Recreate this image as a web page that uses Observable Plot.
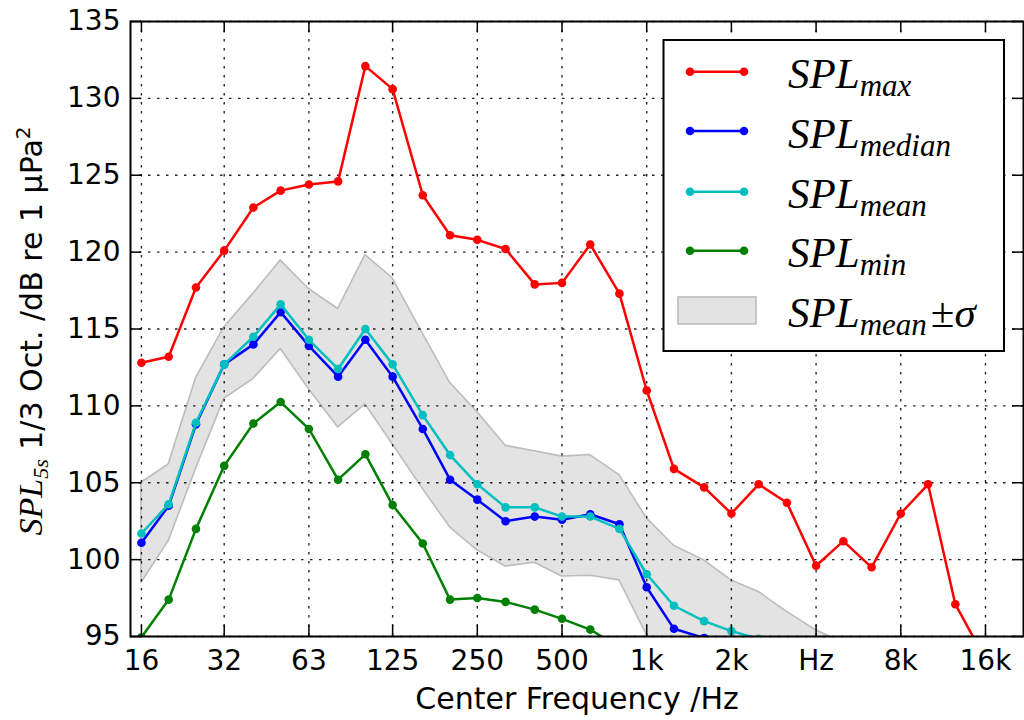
<!DOCTYPE html>
<html><head><meta charset="utf-8">
<script src="https://cdn.jsdelivr.net/npm/d3@7"></script>
<script src="https://cdn.jsdelivr.net/npm/@observablehq/plot@0.6"></script>
<style>
body{margin:0;background:#fff;}
#wrap{position:relative;width:1024px;height:720px;overflow:hidden;}
#overlay{position:absolute;left:0;top:0;pointer-events:none;}
</style></head><body><div id="wrap"></div>
<script>
// 1/3-octave band centre frequencies (Hz)
const freqs = [16,20,25,31.5,40,50,63,80,100,125,160,200,250,315,400,500,630,800,1000,1250,1600,2000,2500,3150,4000,5000,6300,8000,10000,12500,16000];
const splMax    = [112.8,113.2,117.7,120.1,122.9,124.0,124.4,124.6,132.1,130.6,123.7,121.1,120.8,120.2,117.9,118.0,120.5,117.3,111.0,105.9,104.7,103.0,104.9,103.7,99.6,101.2,99.5,103.0,104.9,97.1,93.5];
const splMedian = [101.1,103.5,108.8,112.7,114.0,116.1,113.9,111.9,114.3,111.9,108.5,105.2,103.9,102.5,102.8,102.6,102.95,102.3,98.2,95.5,94.9,94.3];
const splMean   = [101.7,103.6,108.9,112.7,114.5,116.6,114.3,112.4,115.0,112.7,109.4,106.8,104.9,103.4,103.4,102.8,102.8,102.0,99.05,97.0,96.0,95.35,94.85,94.3];
const splMin    = [94.95,97.4,102.0,106.1,108.85,110.25,108.5,105.2,106.85,103.55,101.05,97.4,97.5,97.25,96.75,96.15,95.45,94.3];
const bandUpper = [105.0,106.2,111.8,115.1,117.3,119.45,117.6,116.3,119.8,118.3,114.7,111.5,109.6,107.4,107.05,106.7,106.8,105.5,102.7,100.9,99.95,98.65,97.9,96.6,95.4,94.6];
const bandLower = [98.5,101.2,105.9,110.45,111.75,113.7,111.1,108.6,110.1,107.5,104.6,102.1,100.6,99.55,99.8,98.9,98.95,98.65,95.1,93.0,92.0,91.0,90.5,90.0,89.5,89.0];

const xTicks = [16,31.5,63,125,250,500,1000,2000,4000,8000,16000];
const xTickLabels = ["16","32","63","125","250","500","1k","2k","Hz","8k","16k"];
const yTicks = [95,100,105,110,115,120,125,130,135];

const seriesNames  = ["max","median","mean","min"];
const seriesColors = ["#ff0000","#0000ff","#00bfbf","#008000"];
const seriesValues = [splMax, splMedian, splMean, splMin];

const band = bandUpper.map((hi,i)=>({f:freqs[i], hi, lo:bandLower[i]}));

const W=1024,H=720,mL=130,mR=1,mT=21,mB=84;
const fw=W-mL-mR, fh=H-mT-mB;

const seriesMarks = [];
seriesValues.forEach((vals,k)=>{
  const rows = vals.map((v,i)=>({f:freqs[i], v}));
  seriesMarks.push(Plot.line(rows,{x:"f",y:"v",stroke:seriesColors[k],strokeWidth:2.5,clip:true}));
  seriesMarks.push(Plot.dot(rows,{x:"f",y:"v",fill:seriesColors[k],r:4.3,stroke:"none",clip:true}));
});

const chart = Plot.plot({
  width:W, height:H, marginLeft:mL, marginRight:mR, marginTop:mT, marginBottom:mB,
  style:{fontFamily:"DejaVu Sans", fontSize:"28px", color:"#000", background:"#fff"},
  x:{type:"log", domain:[14.63,21840], axis:null},
  y:{domain:[95,135], axis:null},
  marks:[
    Plot.areaY(band,{x:"f",y1:"lo",y2:"hi",fill:"#e3e3e3",stroke:"#bcbcbc",strokeWidth:1.6,clip:true}),
    Plot.gridX(xTicks,{stroke:"#000",strokeOpacity:0.85,strokeWidth:1.4,strokeDasharray:"2.5,6.5"}),
    Plot.gridY(yTicks,{stroke:"#000",strokeOpacity:0.85,strokeWidth:1.4,strokeDasharray:"2.5,6.5"}),
    ...seriesMarks,
    Plot.ruleX(xTicks,{stroke:"#000",strokeWidth:1.5,insetTop:fh-11}),
    Plot.ruleX(xTicks,{stroke:"#000",strokeWidth:1.5,insetBottom:fh-11}),
    Plot.ruleY(yTicks,{stroke:"#000",strokeWidth:1.5,insetRight:fw-11}),
    Plot.ruleY(yTicks,{stroke:"#000",strokeWidth:1.5,insetLeft:fw-11}),
    Plot.text(xTicks,{x:d=>d,frameAnchor:"bottom",lineAnchor:"top",dy:14,fontSize:28,
      text:(d,i)=>xTickLabels[i]}),
    Plot.text(yTicks,{y:d=>d,frameAnchor:"left",textAnchor:"end",dx:-10,fontSize:28,text:d=>String(d)}),
    Plot.text(["Center Frequency /Hz"],{frameAnchor:"bottom",lineAnchor:"top",dy:51,fontSize:30}),
    Plot.frame({stroke:"#000",strokeWidth:2})
  ]
});
const wrap = document.getElementById("wrap");
wrap.appendChild(chart);

// overlay: y-axis label and legend
const NS="http://www.w3.org/2000/svg";
const ov = document.createElementNS(NS,"svg");
ov.setAttribute("id","overlay");
ov.setAttribute("width",W); ov.setAttribute("height",H);
wrap.appendChild(ov);
function el(tag, attrs, parent){
  const e=document.createElementNS(NS,tag);
  for(const k in attrs) e.setAttribute(k,attrs[k]);
  (parent||ov).appendChild(e); return e;
}
function tspan(parent, txt, attrs){ const t=el("tspan",attrs||{},parent); t.textContent=txt; return t; }

// y label
const yl = el("text",{transform:"translate(42,331) rotate(-90)","text-anchor":"middle","font-family":"DejaVu Sans","font-size":"30",fill:"#000"});
tspan(yl,"SPL",{"font-family":"Liberation Serif","font-style":"italic","font-size":"34"});
tspan(yl,"5s",{"font-family":"Liberation Serif","font-style":"italic","font-size":"22",dy:"6"});
tspan(yl," 1/3 Oct. /dB re 1 µPa",{dy:"-6"});
tspan(yl,"2",{"font-size":"20",dy:"-12"});

// legend
el("rect",{x:663.5,y:40,width:340.5,height:311,fill:"#fff",stroke:"#000","stroke-width":2});
const rowY=[71.7,131,191.7,250.7,310.7];
function legendText(y, sub, extra){
  const t=el("text",{x:788,y:y+16.5,"font-family":"Liberation Serif","font-style":"italic","font-size":"43",fill:"#000"});
  tspan(t,"SPL");
  tspan(t,sub,{"font-size":"31",dy:"8"});
  if(extra){ tspan(t,"±",{"font-style":"normal",dy:"-8",dx:"4"}); tspan(t,"σ"); }
}
seriesNames.forEach((n,k)=>{
  const y=rowY[k];
  el("line",{x1:690,x2:744,y1:y,y2:y,stroke:seriesColors[k],"stroke-width":2.5});
  el("circle",{cx:690,cy:y,r:4.3,fill:seriesColors[k]});
  el("circle",{cx:744,cy:y,r:4.3,fill:seriesColors[k]});
  legendText(y,n,false);
});
el("rect",{x:678,y:297,width:78,height:27,fill:"#e3e3e3",stroke:"#bcbcbc","stroke-width":1.6});
legendText(rowY[4],"mean",true);
</script></body></html>
